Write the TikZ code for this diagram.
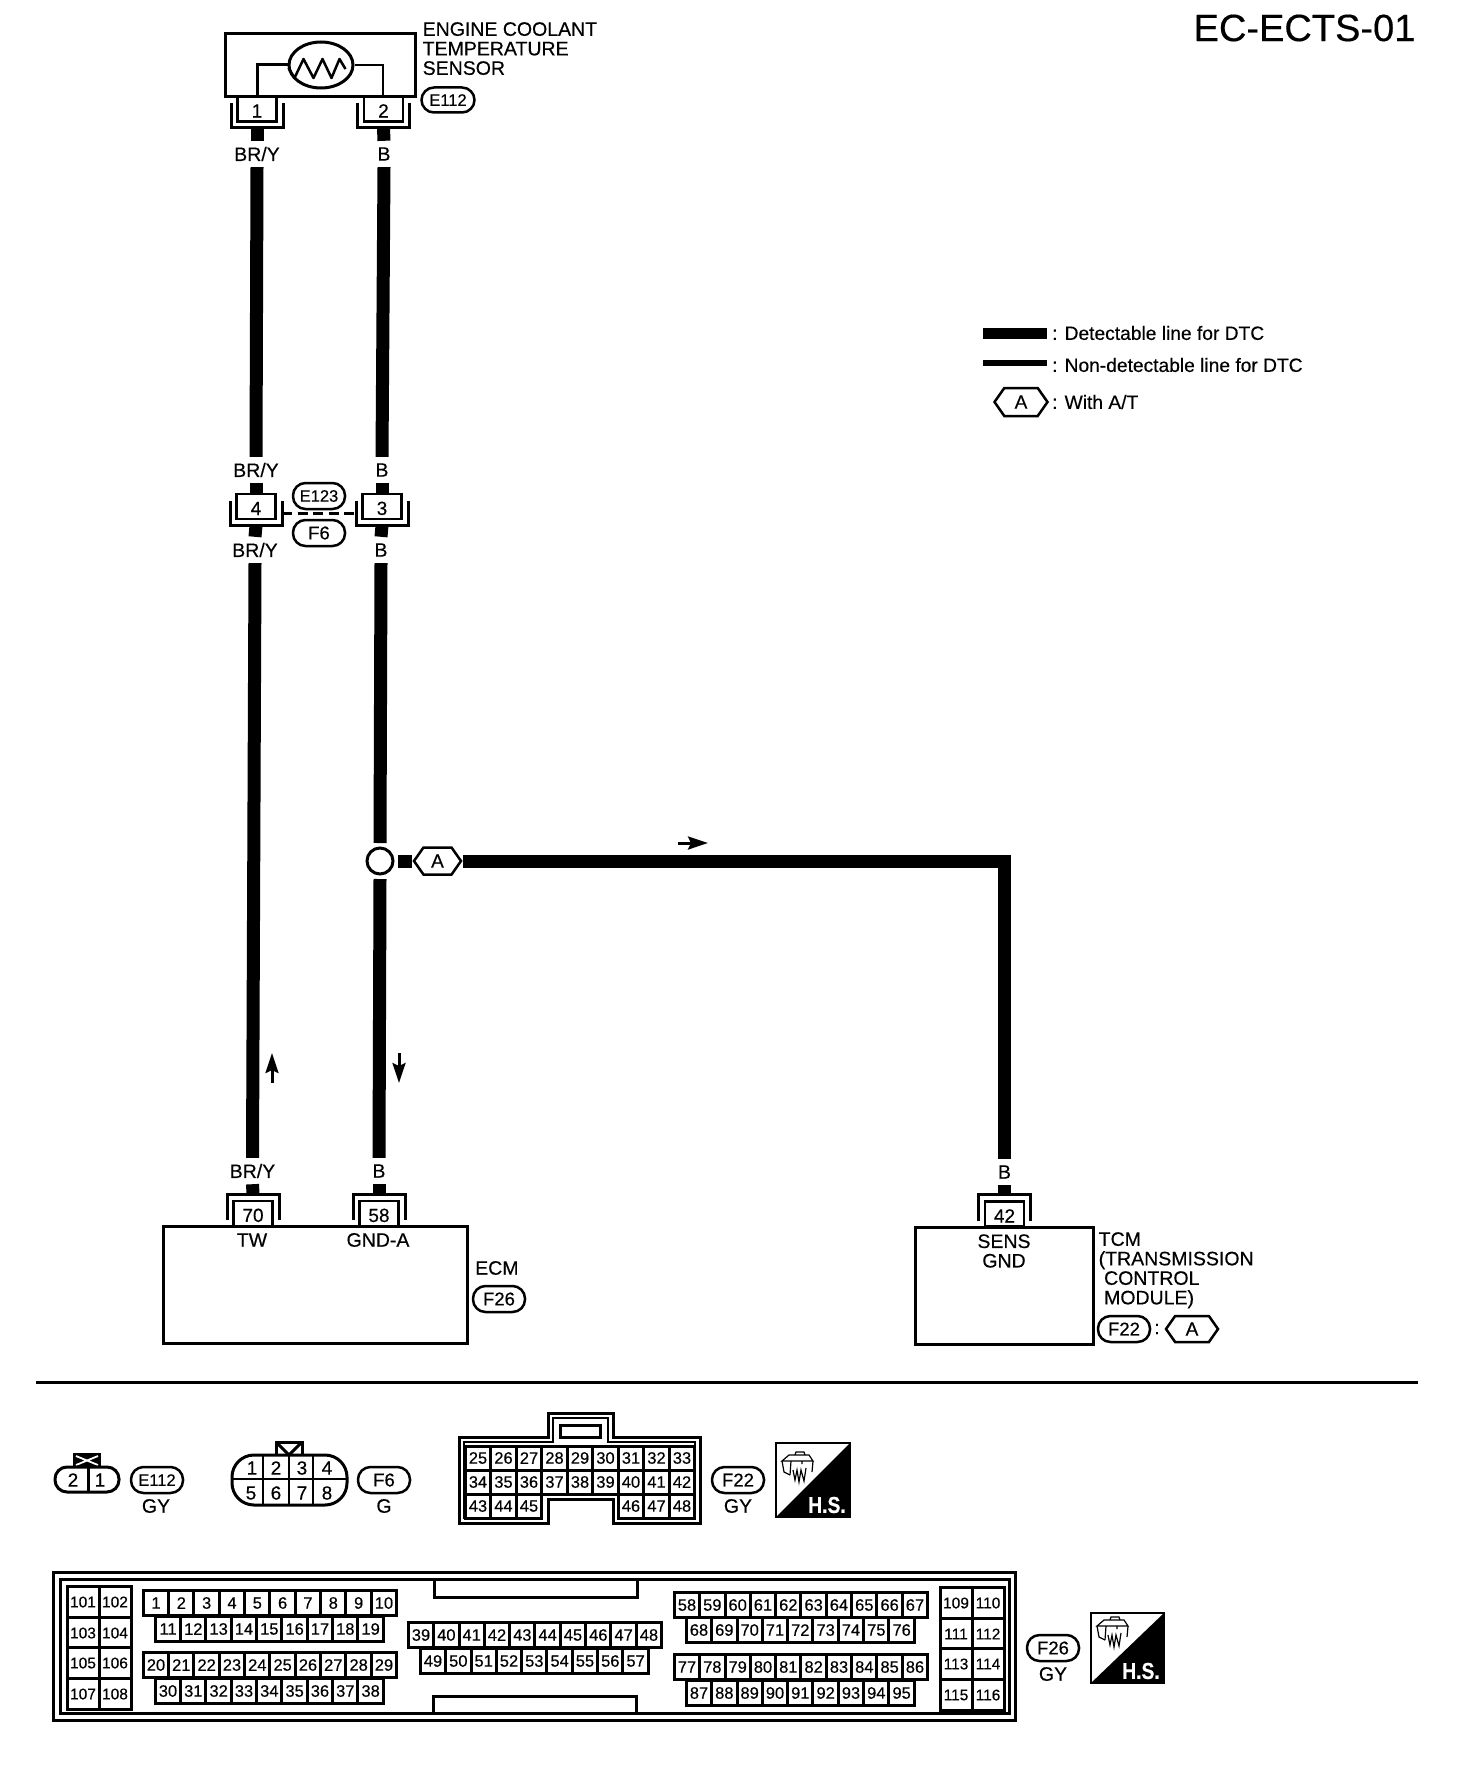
\documentclass[tikz,border=0pt]{standalone}
\usepackage{fontspec}
\setmainfont{Liberation Sans}[FakeBold=0.35]
\usetikzlibrary{arrows.meta,shapes.symbols,shapes.geometric,calc}
\newcommand{\fs}[1]{\fontsize{#1}{#1}\selectfont}
\tikzset{
  x=1pt,y=-1pt,
  txt/.style={inner sep=0,font=\fs{19.5}},
  ltxt/.style={txt,anchor=west},
  wlabel/.style={txt,minimum height=26,minimum width=10},
  wire/.style={line width=13,line cap=butt,line join=miter},
  pinbox/.style={draw,line width=2.5,fill=white,minimum width=39,minimum height=25,inner sep=0,font=\fs{19}},
  bracket/.style={line width=3},
  oval/.style={draw,line width=2.5,fill=white,rounded corners=12.5,minimum width=52,minimum height=26,inner sep=0,font=\fs{18.5}},
  ovalE/.style={oval,font=\fs{16.5}},
  hexa/.style={draw,line width=2.5,fill=white,signal,signal to=west and east,signal pointer angle=110,minimum width=47,minimum height=27,inner sep=0,font=\fs{19}},
  flow/.style={line width=3,-{Stealth[length=20,width=13,inset=3]}},
  cellbox/.style={draw,line width=3,fill=white,inner sep=0,minimum width=25.4,minimum height=25,font=\fs{16.5}},
  bigcell/.style={cellbox,minimum width=32,minimum height=31,font=\fs{15.5}},
  box/.style={line width=3},
  num/.style={inner sep=0,font=\fs{19}},
}
% U-shaped connector: name, x, centre y, number
\newcommand{\pinU}[4]{%
  \node[pinbox] (#1) at (#2,#3) {\rule{0pt}{17pt}#4};
  \draw[bracket] (#2-26,#3-6) -- (#2-26,#3+19) -- (#2+26,#3+19) -- (#2+26,#3-6);
  \coordinate (#1-stub) at (#2,#3+19);
  \coordinate (#1-l) at (#2-26,#3+7);
  \coordinate (#1-r) at (#2+26,#3+7);
}
% inverted connector: name, x, centre y, number
\newcommand{\pinN}[4]{%
  \node[pinbox] (#1) at (#2,#3) {\rule{0pt}{17pt}#4};
  \draw[bracket] (#2-26,#3+6.5) -- (#2-26,#3-19.5) -- (#2+26,#3-19.5) -- (#2+26,#3+6.5);
  \coordinate (#1-stub) at (#2,#3-19.5);
}
% row of cells: prefix, list, x0, pitch, y
\newcommand{\cellrow}[5]{%
  \foreach \n [count=\i from 0] in {#2} {
    \node[cellbox] (#1-\n) at ({#3+#4*\i},#5) {\n};
  }%
}
% H.S. square: x, y (top-left), width, height, icon y offset
\newcommand{\hsbox}[5]{%
  \begin{scope}[shift={(#1,#2)}]
    \fill (#3,0) -- (#3,#4) -- (0,#4) -- cycle;
    \draw[line width=2.5] (0,0) rectangle (#3,#4);
    \node[inner sep=0,text=white,font=\fs{23}\bfseries,xscale=.84] at (#3-23,#4-12) {H.S.};
    \begin{scope}[shift={(6,#5)},line width=1.2]
      \draw (13,3) -- (14,0) -- (22,0) -- (23,3);
      \draw (0,9) -- (7,3) -- (27,3) -- (31,9) -- cycle;
      \draw (0,9) -- (2,20) -- (8,23);
      \draw (31,9) -- (30,20);
      \draw (9,9) -- (8,23) (20,9) -- (20,12);
      \draw (11,18) -- (13,28) -- (15,18) -- (17,30) -- (19,18) -- (22,29) -- (24,16);
    \end{scope}
  \end{scope}
}
\begin{document}
\begin{tikzpicture}
\fill[white] (0,0) rectangle (1456,1766);
\useasboundingbox (0,0) rectangle (1456,1766);

% title
\node[inner sep=0,font=\fs{38}] (title) at (1304.5,28) {EC-ECTS-01};

% sensor
\draw[box] (225,34) rectangle (415,97);
\node[draw,ellipse,line width=3,minimum width=64,minimum height=46,inner sep=0] (therm) at (321,65) {};
\draw[line width=2.5,line join=round] ($(therm.west)+(1,3)$) -- ++(6,10) -- ++(9,-19) -- ++(10,19) -- ++(9,-19) -- ++(9,19) -- ++(8,-19) -- ++(6,10);
\coordinate (sl) at (257,97);
\coordinate (sr) at (383,97);
\draw[line width=3,line join=miter] (sl) |- (therm.west);
\draw[line width=2.5,line join=miter] (therm.east) -| (sr);
\node[txt,font=\fs{19.5},align=left,anchor=north west] (sensorlabel) at (422.5,22) {ENGINE COOLANT\\TEMPERATURE\\SENSOR};
\node[ovalE,minimum width=53,minimum height=25] (oE112) at (448,100) {E112};

\pinU{p1}{257}{109}{1}
\pinU{p2}{383.5}{109}{2}

% mid connector
\pinU{p4}{256}{506.5}{4}
\pinU{p3}{382}{506.5}{3}
\draw[line width=3,dash pattern=on 10 off 5.5] (p4-r) -- (p3-l);
\node[ovalE] (oE123) at (319,496) {E123};
\node[oval] (oF6a) at (319,533) {F6};

% ECM
\draw[box] (163,1226) rectangle (467,1343);
\pinN{p70}{253}{1213.5}{70}
\pinN{p58}{379}{1213.5}{58}
\node[txt] (tw) at (252,1240) {TW};
\node[txt] (gnda) at (378,1240) {GND-A};
\node[ltxt] (ecm) at (475,1268) {ECM};
\node[oval] (oF26a) at (499,1299) {F26};

% TCM
\draw[box] (915,1227) rectangle (1093,1344);
\pinN{p42}{1004.5}{1214}{42}
\node[txt,align=center,font=\fs{19.5}] (sens) at (1004,1251) {SENS\\[0pt]GND};
\node[txt,align=left,anchor=north west,font=\fs{19.5}] (tcm) at (1098.5,1232) {TCM\\(TRANSMISSION\\\ CONTROL\\\ MODULE)};
\node[oval] (oF22a) at (1124,1329) {F22};
\node[txt] (colon) at (1157,1329) {:};
\node[hexa,minimum width=52,minimum height=26] (hexB) at (1192,1329) {A};

% wire labels
\node[wlabel] (l1) at (257,154) {BR/Y};
\node[wlabel] (l2) at (256,470) {BR/Y};
\node[wlabel] (l3) at (255,550) {BR/Y};
\node[wlabel] (l4) at (252.5,1171) {BR/Y};
\node[wlabel] (l5) at (384,154) {B};
\node[wlabel] (l6) at (382,470) {B};
\node[wlabel] (l7) at (381,550) {B};
\node[wlabel] (l8) at (379,1171) {B};
\node[wlabel] (l9) at (1004.5,1172) {B};

% junction and hexagon
\node[draw,circle,line width=3,minimum size=26,inner sep=0,outer sep=5,fill=white] (jct) at (380,861) {};
\node[hexa] (hexA) at (437.5,861) {A};

% wires
\draw[wire] (p1-stub) -- (l1.north);
\draw[wire] (l1.south) -- (l2.north);
\draw[wire] (l2.south) -- (p4.north);
\draw[wire] (p4-stub) -- (l3.north);
\draw[wire] (l3.south) -- (l4.north);
\draw[wire] (l4.south) -- (p70-stub);
\draw[wire] (p2-stub) -- (l5.north);
\draw[wire] (l5.south) -- (l6.north);
\draw[wire] (l6.south) -- (p3.north);
\draw[wire] (p3-stub) -- (l7.north);
\draw[wire] (l7.south) -- (jct.north);
\draw[wire] (jct.south) -- (l8.north);
\draw[wire] (l8.south) -- (p58-stub);
\draw[wire] (jct.east) -- (hexA.west);
\draw[wire] (hexA.east) -| (l9.north);
\draw[wire] (l9.south) -- (p42-stub);

% signal arrows
\coordinate (a1s) at (272,1083); \coordinate (a1e) at (272,1053);
\coordinate (a2s) at (399,1053); \coordinate (a2e) at (399,1083);
\coordinate (a3s) at (678,843);  \coordinate (a3e) at (708,843);
\draw[flow] (a1s) -- (a1e);
\draw[flow] (a2s) -- (a2e);
\draw[flow] (a3s) -- (a3e);

% legend
\coordinate (lg1a) at (983,333); \coordinate (lg1b) at (1047,333);
\coordinate (lg2a) at (983,363); \coordinate (lg2b) at (1047,363);
\draw[line width=11] (lg1a) -- (lg1b);
\draw[line width=5.5] (lg2a) -- (lg2b);
\node[ltxt,font=\fs{19.2}] (lgt1) at (1052,333) {: Detectable line for DTC};
\node[ltxt,font=\fs{19.2}] (lgt2) at (1052,365) {: Non-detectable line for DTC};
\node[hexa,minimum width=53,minimum height=28] (hexL) at (1021,402) {A};
\node[ltxt,font=\fs{19.2}] (lgt3) at (1052,402) {: With A/T};

% divider
\coordinate (da) at (36,1382); \coordinate (db) at (1418,1382);
\draw[line width=3] (da) -- (db);

% E112 connector view
\fill (73,1453) rectangle (101,1467);
\draw[white,line width=1.8] (76,1456) -- (98,1465) (76,1465) -- (98,1456);
\draw[line width=3,rounded corners=12,fill=white] (55,1467) rectangle (119,1492);
\draw[line width=3] (88,1467) -- (88,1492);
\node[num] (c2) at (73,1480) {2};
\node[num] (c1) at (100,1480) {1};
\node[ovalE] (oE112b) at (157,1480) {E112};
\node[txt] (gy1) at (156,1506) {GY};

% F6 connector view
\draw[line width=3,fill=white] (276,1455) -- (276,1442) -- (302,1442) -- (302,1455);
\draw[line width=3] (276,1442) -- (289,1455) -- (302,1442);
\draw[line width=3,rounded corners=22,fill=white] (232,1455) rectangle (347,1505);
\draw[line width=2.5] (232,1479) -- (347,1479) (263,1455) -- (263,1505) (289,1455) -- (289,1505) (313,1455) -- (313,1505);
\foreach \n/\px/\py in {1/252/1468,2/276/1468,3/302/1468,4/327/1468,5/251/1493,6/276/1493,7/302/1493,8/327/1493}
  \node[num] (f6-\n) at (\px,\py) {\n};
\node[oval] (oF6b) at (384,1480) {F6};
\node[txt] (g1) at (384,1506) {G};

% F22 connector view
\draw[line width=3] (459,1437) -- (548,1437) -- (548,1413) -- (613,1413) -- (613,1437) -- (700,1437) -- (700,1523) -- (613,1523) -- (613,1499) -- (548,1499) -- (548,1523) -- (459,1523) -- cycle;
\draw[line width=2.5] (464,1442) -- (553,1442) -- (553,1418) -- (608,1418) -- (608,1442) -- (695,1442) -- (695,1518) -- (618,1518) -- (618,1494) -- (542,1494) -- (542,1518) -- (464,1518) -- cycle;
\draw[line width=3] (560,1425) rectangle (600,1437);
\tikzset{cellbox/.append style={minimum width=25.5,minimum height=24}}
\cellrow{fa}{25,26,27,28,29,30,31,32,33}{478}{25.5}{1458}
\cellrow{fb}{34,35,36,37,38,39,40,41,42}{478}{25.5}{1482}
\cellrow{fc}{43,44,45}{478}{25.5}{1506}
\cellrow{fd}{46,47,48}{631}{25.5}{1506}
\node[oval] (oF22b) at (738,1480) {F22};
\node[txt] (gy2) at (738,1506) {GY};
\hsbox{776}{1443}{74}{74}{9}

% F26 connector view
\draw[line width=3] (53.5,1572.5) rectangle (1015.5,1720);
\draw[line width=3] (60,1579) rectangle (1009,1713);
\draw[line width=3] (434,1579) -- (434,1597) -- (637,1597) -- (637,1579);
\draw[line width=3] (433,1713) -- (433,1696) -- (636,1696) -- (636,1713);
\tikzset{cellbox/.append style={minimum width=25.33,minimum height=25}}
\cellrow{ra}{1,2,3,4,5,6,7,8,9,10}{156}{25.33}{1603}
\cellrow{rb}{11,12,13,14,15,16,17,18,19}{168}{25.33}{1629}
\cellrow{rc}{20,21,22,23,24,25,26,27,28,29}{156}{25.33}{1665}
\cellrow{rd}{30,31,32,33,34,35,36,37,38}{168}{25.33}{1691}
\cellrow{re}{39,40,41,42,43,44,45,46,47,48}{421}{25.33}{1635}
\cellrow{rf}{49,50,51,52,53,54,55,56,57}{433}{25.33}{1661}
\cellrow{rg}{58,59,60,61,62,63,64,65,66,67}{687}{25.33}{1605}
\cellrow{rh}{68,69,70,71,72,73,74,75,76}{699}{25.33}{1630}
\cellrow{ri}{77,78,79,80,81,82,83,84,85,86}{687}{25.33}{1667}
\cellrow{rj}{87,88,89,90,91,92,93,94,95}{699}{25.33}{1693}
\foreach \n/\px/\py in {101/83/1602,102/115/1602,103/83/1633,104/115/1633,105/83/1663,106/115/1663,107/83/1694,108/115/1694,
  109/956/1603,110/988/1603,111/956/1634,112/988/1634,113/956/1664,114/988/1664,115/956/1695,116/988/1695}
  \node[bigcell] (big-\n) at (\px,\py) {\n};
\node[oval] (oF26b) at (1053,1648) {F26};
\node[txt] (gy3) at (1053,1674) {GY};
\hsbox{1091}{1613}{73}{70}{4}
\end{tikzpicture}
\end{document}
